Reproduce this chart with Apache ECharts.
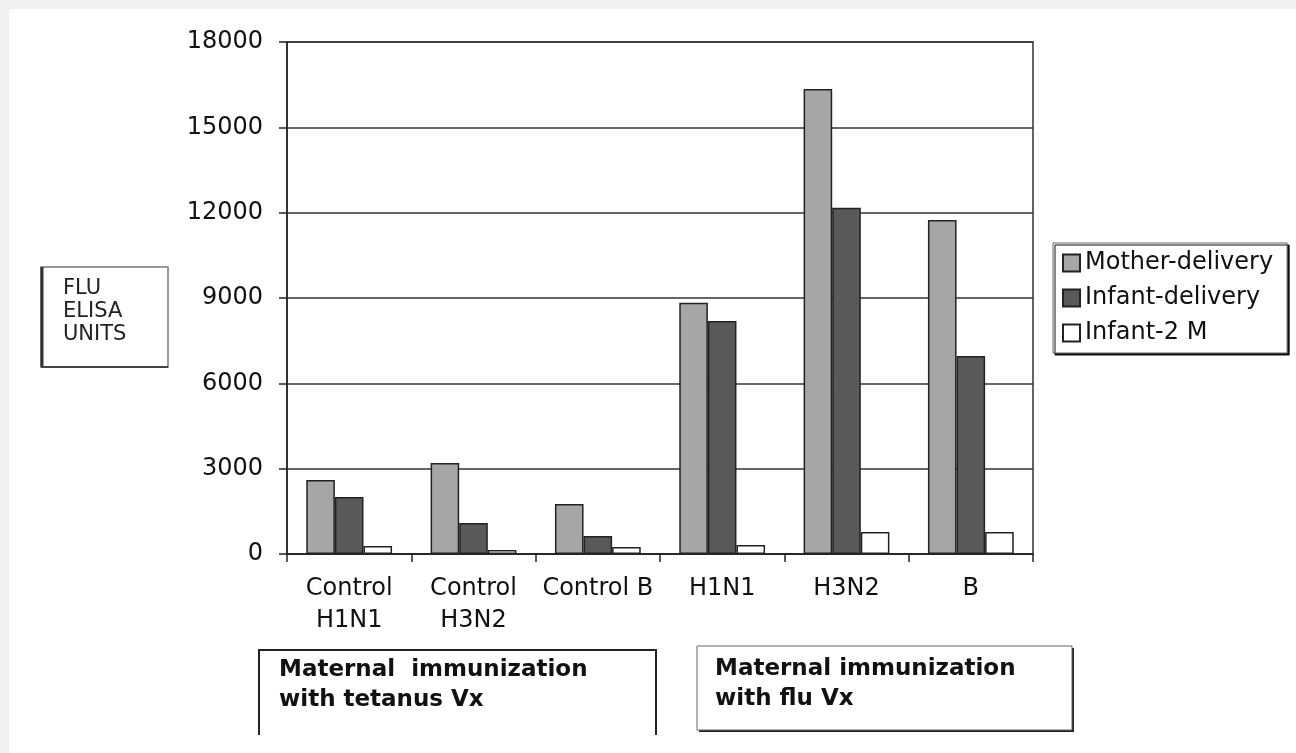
<!DOCTYPE html>
<html>
<head>
<meta charset="utf-8">
<script src="https://cdn.jsdelivr.net/npm/echarts@6/dist/echarts.min.js"></script>
<style>
html,body{margin:0;padding:0;background:#fff;}
#chart{width:1296px;height:753px;}
</style>
</head>
<body>
<div id="chart"></div>
<script>
// 数据
var categories = ['Control\nH1N1', 'Control\nH3N2', 'Control B', 'H1N1', 'H3N2', 'B'];
var motherDelivery = [2600, 3200, 1760, 8830, 16350, 11740];
var infantDelivery = [2000, 1090, 630, 8190, 12170, 6960];
var infant2M = [280, 140, 250, 320, 770, 770];
var yTicks = [0, 3000, 6000, 9000, 12000, 15000, 18000];

(function(){
  var myChart = echarts.init(document.getElementById('chart'));
  var font = 'DejaVu Sans';
  var barBorder = { borderColor: '#222', borderWidth: 1.5 };
  var option = {
    backgroundColor: '#fff',
    animation: false,
    textStyle: { fontFamily: font },
    grid: {
      left: 287,
      top: 42,
      width: 746,
      height: 512,
      show: true,
      backgroundColor: '#fff',
      borderColor: '#333',
      borderWidth: 1.5
    },
    legend: {
      orient: 'vertical',
      left: 1053,
      top: 243,
      padding: [7, 14, 7, 9],
      itemGap: 9,
      itemWidth: 17,
      itemHeight: 17,
      icon: 'rect',
      backgroundColor: '#fff',
      borderColor: '#666',
      borderWidth: 1,
      shadowColor: '#111',
      shadowOffsetX: 2,
      shadowOffsetY: 2,
      shadowBlur: 0,
      textStyle: { fontFamily: font, fontSize: 24, color: '#111', lineHeight: 26 },
      data: ['Mother-delivery', 'Infant-delivery', 'Infant-2 M']
    },
    xAxis: {
      type: 'category',
      data: categories,
      axisLine: { lineStyle: { color: '#222', width: 1.5 } },
      axisTick: { show: true, alignWithLabel: false, length: 8, lineStyle: { color: '#222', width: 1.5 } },
      axisLabel: { fontFamily: font, fontSize: 24, color: '#111', lineHeight: 32, margin: 19, interval: 0 }
    },
    yAxis: {
      type: 'value',
      min: yTicks[0],
      max: yTicks[yTicks.length - 1],
      interval: yTicks[1] - yTicks[0],
      axisLine: { show: true, lineStyle: { color: '#222', width: 1.5 } },
      axisTick: { show: true, length: 8, lineStyle: { color: '#222', width: 1.5 } },
      axisLabel: {
        fontFamily: font, fontSize: 24, color: '#111', margin: 24,
        formatter: function(v){ return String(v); }
      },
      splitLine: { lineStyle: { color: '#333', width: 1.5 } }
    },
    series: [
      {
        name: 'Mother-delivery', type: 'bar', barGap: '0%', barCategoryGap: '31%',
        itemStyle: Object.assign({ color: '#a6a6a6' }, barBorder),
        data: motherDelivery
      },
      {
        name: 'Infant-delivery', type: 'bar', barGap: '0%', barCategoryGap: '31%',
        itemStyle: Object.assign({ color: '#595959' }, barBorder),
        data: infantDelivery
      },
      {
        name: 'Infant-2 M', type: 'bar', barGap: '0%', barCategoryGap: '31%',
        itemStyle: Object.assign({ color: '#ffffff' }, barBorder),
        data: infant2M
      }
    ],
    graphic: [
      // 灰色边
      { type: 'rect', left: 0, top: 0, z: 100, shape: { width: 1296, height: 9 }, style: { fill: '#f0f0f0' } },
      { type: 'rect', left: 0, top: 0, z: 100, shape: { width: 9, height: 753 }, style: { fill: '#f0f0f0' } },
      // FLU ELISA UNITS 框
      { type: 'rect', shape: { x: 41, y: 267, width: 127, height: 100 }, style: { fill: '#fff', stroke: '#777', lineWidth: 1.5 } },
      { type: 'line', shape: { x1: 42, y1: 267, x2: 42, y2: 367 }, style: { stroke: '#333', lineWidth: 3 } },
      { type: 'line', shape: { x1: 41, y1: 367, x2: 168, y2: 367 }, style: { stroke: '#444', lineWidth: 2 } },
      { type: 'text', x: 63, y: 277, style: { text: 'FLU\nELISA\nUNITS', font: '21px "DejaVu Sans"', fill: '#222', lineHeight: 23, verticalAlign: 'top' } },
      // 下方说明框
      { type: 'polyline', shape: { points: [[259, 735], [259, 650], [656, 650], [656, 735]] }, style: { fill: null, stroke: '#222', lineWidth: 2 } },
      { type: 'text', x: 279, y: 655, style: { text: 'Maternal  immunization\nwith tetanus Vx', font: 'bold 23px "DejaVu Sans"', fill: '#111', lineHeight: 30, verticalAlign: 'top' } },
      { type: 'rect', shape: { x: 699, y: 648, width: 375, height: 84 }, style: { fill: '#222' } },
      { type: 'rect', shape: { x: 697, y: 646, width: 375, height: 84 }, style: { fill: '#fff', stroke: '#666', lineWidth: 1 } },
      { type: 'text', x: 715, y: 654, style: { text: 'Maternal immunization\nwith flu Vx', font: 'bold 23px "DejaVu Sans"', fill: '#111', lineHeight: 30, verticalAlign: 'top' } }
    ]
  };
  myChart.setOption(option);
  window.addEventListener('resize', function(){
    myChart.resize();
  });
})();
</script>
</body>
</html>
